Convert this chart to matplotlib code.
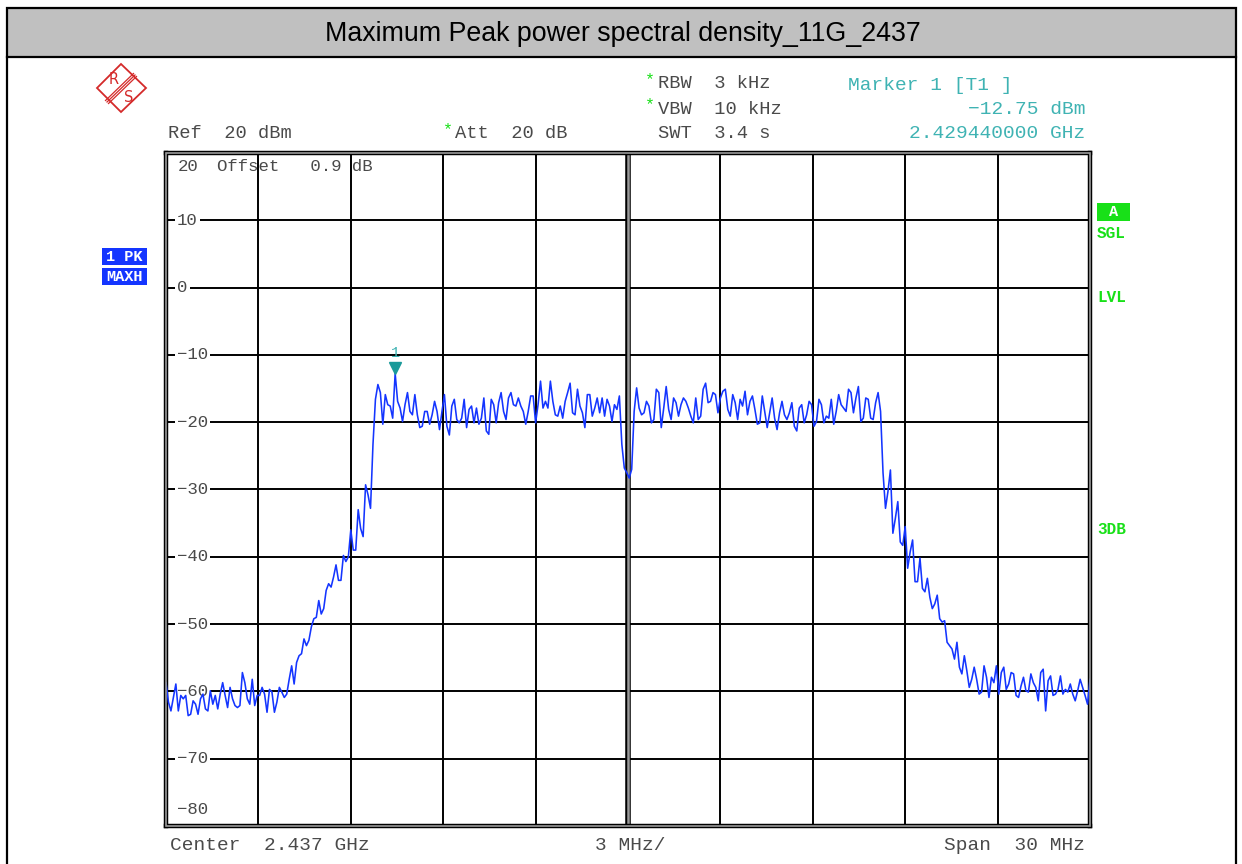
import numpy as np
import matplotlib
matplotlib.use("Agg")
import matplotlib.pyplot as plt
import matplotlib.transforms as mtransforms
from matplotlib.patches import Rectangle, Polygon

W, H = 1242, 864

# sweep settings (GHz / dBm)
f_start, f_stop = 2.422, 2.452
f_center = 2.437
ref_level, bottom_level = 20, -80
level_lines = [10, 0, -10, -20, -30, -40, -50, -60, -70]
level_labels = ["10", "0", "\u221210", "\u221220", "\u221230", "\u221240",
                "\u221250", "\u221260", "\u221270"]

marker_freq = 2.42944
marker_level = -12.75

# trace 1 (PK, MAXH), 376 sweep points across the span
left_skirt = [
    -58.7, -61.6, -62.9, -60.9, -58.9, -62.9, -60.6, -61.1, -60.6, -63.6,
    -63.4, -61.4, -61.9, -63.4, -61.1, -60.4, -62.6, -62.9, -59.9, -61.9,
    -60.6, -62.6, -60.4, -58.7, -60.6, -62.4, -59.4, -61.1, -62.1, -62.4,
    -62.1, -57.2, -58.7, -61.1, -61.9, -58.2, -62.1, -60.6, -60.6, -59.4,
    -60.4, -63.1, -59.7, -60.1, -63.1, -61.6, -59.4, -60.1, -60.9, -60.4,
    -58.2, -56.2, -58.9, -55.7, -54.7, -54.4, -52.2, -53.2, -52.4, -50.4,
    -49.2, -49.0, -46.5, -48.5, -47.7, -45.0, -44.0, -44.5, -43.0, -41.2,
    -43.5, -43.5, -39.8, -40.7, -40.0, -36.0, -39.0, -39.0, -33.0, -35.8,
    -37.0, -29.3, -30.8, -32.8, -23.3, -16.6, -14.4, -15.6, -20.3, -15.9,
    -17.4, -17.6, -19.4]
band_low = [
    -12.75, -16.9, -17.9, -19.9, -17.4, -15.6, -18.4, -18.9, -15.9, -18.9,
    -20.8, -20.6, -18.4, -18.4, -20.3, -18.9, -16.9, -18.4, -21.1, -18.4,
    -15.9, -20.6, -21.9, -17.6, -16.6, -19.6, -20.1, -19.4, -16.6, -20.8,
    -18.1, -17.6, -20.1, -17.9, -20.3, -19.4, -16.4, -21.3, -21.8, -16.6,
    -17.4, -20.1, -17.1, -15.6, -18.4, -19.6, -16.4, -15.6, -17.4, -17.6,
    -16.4, -17.6, -18.4, -20.3, -18.4, -16.1, -16.1, -20.1, -17.4, -13.9,
    -17.9, -16.9, -17.9, -13.9, -16.9, -18.9, -19.1, -17.6, -19.4, -16.9,
    -15.6, -14.2, -18.6, -18.9, -15.1, -17.6, -18.6, -20.8, -15.9, -15.9,
    -19.1, -17.9, -16.4, -18.6, -16.4, -19.1, -16.6, -17.6, -19.9, -17.4,
    -18.1, -16.1, -23.3, -26.8, -27.5, -28.3, -27.0]
band_high = [
    -18.4, -14.9, -17.9, -18.9, -18.6, -16.9, -17.6, -20.1, -19.6, -15.1,
    -15.6, -20.8, -17.9, -14.7, -18.1, -19.6, -16.4, -17.1, -19.1, -17.4,
    -16.4, -16.9, -17.9, -19.1, -20.1, -16.4, -19.6, -19.1, -15.1, -14.2,
    -17.1, -16.9, -15.6, -15.9, -18.6, -16.4, -15.4, -15.1, -18.1, -19.1,
    -15.9, -17.1, -19.6, -16.6, -17.6, -15.4, -18.9, -16.9, -16.1, -18.1,
    -20.3, -20.1, -16.1, -18.4, -20.8, -18.6, -16.4, -19.4, -21.1, -18.6,
    -16.9, -18.9, -19.6, -18.6, -17.1, -20.6, -21.3, -17.9, -17.4, -20.1,
    -18.9, -16.9, -17.4, -20.6, -19.9, -16.6, -17.4, -20.1, -19.1, -19.4,
    -16.6, -20.3, -18.4, -15.9, -17.4, -17.9, -18.4, -15.1, -15.6, -18.6,
    -16.4, -14.7, -19.9, -19.4, -16.4, -16.6, -19.4, -19.6, -17.1, -15.6,
    -18.4]
right_skirt = [
    -27.5, -32.8, -30.3, -27.1, -36.5, -34.3, -31.8, -37.8, -38.3, -35.5,
    -41.7, -39.3, -37.5, -43.7, -43.7, -40.2, -44.7, -45.2, -43.2, -46.0,
    -47.7, -47.0, -45.7, -49.2, -49.7, -49.5, -52.7, -53.2, -53.7, -55.2,
    -52.7, -56.4, -57.4, -54.7, -56.9, -59.4, -58.2, -56.4, -58.2, -60.4,
    -60.1, -56.2, -57.9, -60.9, -57.9, -58.7, -56.2, -60.4, -57.2, -56.4,
    -59.7, -58.9, -57.2, -57.4, -60.6, -60.9, -59.2, -57.9, -59.9, -60.1,
    -57.4, -58.7, -59.4, -61.4, -57.2, -56.7, -62.9, -58.4, -57.7, -60.6,
    -60.4, -59.7, -57.7, -60.4, -59.7, -60.1, -58.9, -60.4, -61.4, -59.9,
    -58.2, -59.4, -60.6, -61.9, -58.2]

trace = np.array(left_skirt + band_low + band_high + right_skirt)
freq = np.linspace(f_start, f_stop, len(trace))

MONO = ["Liberation Mono", "DejaVu Sans Mono"]
GREY = "#4a4a4a"
TEAL = "#3fb3b3"
GREEN = "#18e018"
BLUE = "#1435ff"

fig = plt.figure(figsize=(W / 100, H / 100), dpi=100)
fig.patch.set_facecolor("white")

# page layer in pixel coordinates
bg = fig.add_axes([0, 0, 1, 1])
bg.set_xlim(0, W)
bg.set_ylim(H, 0)
bg.axis("off")

bg.add_patch(Rectangle((7, 8), 1229, 49, fc="#c0c0c0", ec="black", lw=1.6))
bg.plot([7, 7], [57, H], color="black", lw=1.6)
bg.plot([1236, 1236], [57, H], color="black", lw=1.6)
bg.text(623, 34, "Maximum Peak power spectral density_11G_2437",
        ha="center", va="center", fontsize=19.3, family="Liberation Sans")

# R&S logo
red = "#d42a2a"
bg.add_patch(Polygon([(121, 64), (146, 88), (121, 112), (97, 88)],
                     closed=True, fill=False, ec=red, lw=1.3))
for d in (-1.5, 0, 1.5):
    bg.plot([135 + d, 107 + d], [75 + d, 102 + d], color=red, lw=0.9)
bg.text(114, 80, "R", color=red, fontsize=10.5, ha="center", va="center")
bg.text(129, 97, "S", color=red, fontsize=10.5, ha="center", va="center")

# instrument settings header
hdr = dict(family=MONO, fontsize=13.5, color=GREY, va="center")
bg.text(168, 133, "Ref  20 dBm", **hdr)
bg.text(443, 130, "*", family=MONO, fontsize=12, color=GREEN, va="center")
bg.text(455, 133, "Att  20 dB", **hdr)
bg.text(645, 80, "*", family=MONO, fontsize=12, color=GREEN, va="center")
bg.text(658, 84, "RBW  3 kHz", **hdr)
bg.text(645, 105, "*", family=MONO, fontsize=12, color=GREEN, va="center")
bg.text(658, 109, "VBW  10 kHz", **hdr)
bg.text(658, 133, "SWT  3.4 s", **hdr)
mk = dict(family=MONO, fontsize=14, color=TEAL, va="center")
bg.text(848, 85, "Marker 1 [T1 ]", **mk)
bg.text(1085, 109, "\u221212.75 dBm", ha="right", **mk)
bg.text(1085, 133, "2.429440000 GHz", ha="right", **mk)

# trace indicator boxes
for yb, s in ((248, "1 PK"), (268, "MAXH")):
    bg.add_patch(Rectangle((102, yb), 45, 17, fc=BLUE, ec="none"))
    bg.text(124.5, yb + 8.8, s, family=MONO, fontsize=11, weight="bold",
            color="white", ha="center", va="center")

# status column on the right
bg.add_patch(Rectangle((1097, 203), 33, 18, fc=GREEN, ec="none"))
bg.text(1113.5, 212.5, "A", family=MONO, fontsize=11, weight="bold",
        color="white", ha="center", va="center")
for yt, s in ((234, "SGL"), (297, "LVL"), (530, "3DB")):
    bg.text(1097, yt, s, family=MONO, fontsize=11.5, weight="bold",
            color=GREEN, va="center")

# bottom annotation
ftr = dict(family=MONO, fontsize=14, color=GREY, va="center")
bg.text(170, 845, "Center  2.437 GHz", **ftr)
bg.text(595, 845, "3 MHz/", **ftr)
bg.text(1085, 845, "Span  30 MHz", ha="right", **ftr)

# measurement diagram
ax = fig.add_axes([166 / W, 1 - 826 / H, 924 / W, 673 / H])
ax.set_xlim(f_start, f_stop)
ax.set_ylim(bottom_level, ref_level)
ax.set_xticks([])
ax.set_yticks([])
ax.set_facecolor("white")

for lv in level_lines:
    ax.axhline(lv, color="black", lw=1.4, zorder=1)
for fv in np.linspace(f_start, f_stop, 11)[1:-1]:
    if abs(fv - f_center) > 1e-9:
        ax.axvline(fv, color="black", lw=1.4, zorder=1)
ax.axvline(f_center, color="black", lw=4.0, zorder=1)
ax.axvline(f_center, color="#9a9a9a", lw=1.8, zorder=1)

for sp in ax.spines.values():
    sp.set_linewidth(3.2)
    sp.set_color("black")
ax.add_patch(Rectangle((0, 0), 1, 1, transform=ax.transAxes, fill=False,
                       ec="#9a9a9a", lw=1.2, clip_on=False, zorder=5))

ytr = ax.get_yaxis_transform()
lab = dict(family=MONO, fontsize=12.5, color=GREY, va="center", ha="left")
for lv, s in zip(level_lines, level_labels):
    ax.text(0.012, lv, s, transform=ytr, zorder=3,
            bbox=dict(fc="white", ec="none", pad=1.5), **lab)
ax.text(0.013, 20 - 14 / 6.73, "20", transform=ytr, zorder=3, **lab)
ax.text(0.055, 20 - 14 / 6.73, "Offset   0.9 dB", transform=ytr, zorder=3, **lab)
ax.text(0.012, -80 + 16 / 6.73, "\u221280", transform=ytr, zorder=3, **lab)

ax.plot(freq, trace, color=BLUE, lw=1.15, zorder=4)

# marker 1
tip = mtransforms.offset_copy(ax.transData, fig=fig, x=0, y=5, units="dots")
ax.plot(marker_freq, marker_level, marker="v", ms=8, color="#1a9a9a",
        mec="#1a9a9a", transform=tip, zorder=6, clip_on=False)
lbl = mtransforms.offset_copy(ax.transData, fig=fig, x=0, y=20, units="dots")
ax.text(marker_freq, marker_level, "1", transform=lbl, family=MONO,
        fontsize=11, color=TEAL, ha="center", va="center", zorder=6)

fig.savefig("out.png", dpi=100)
